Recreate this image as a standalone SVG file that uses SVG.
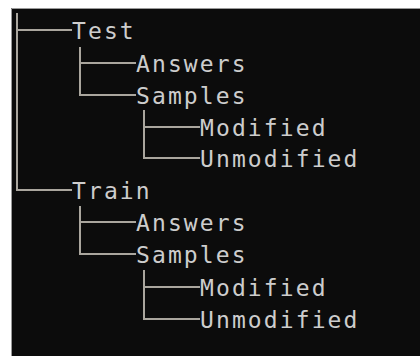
<svg xmlns="http://www.w3.org/2000/svg" width="420" height="356" viewBox="0 0 420 356">
  <style>
    .label { font-family: "DejaVu Sans Mono", "Liberation Mono", monospace; font-size: 23px; fill: #cdcdcd; letter-spacing: 2.1px; }
    .link { fill: none; stroke: #aaa69e; stroke-width: 2; }
  </style>
  <!-- page and terminal panel -->
  <rect x="0" y="0" width="420" height="356" fill="#ffffff"/>
  <rect x="11" y="8" width="409" height="348" fill="#0c0c0c"/>
  <path d="M11.5 356 V8.5 H420" fill="none" stroke="#9a9a9a" stroke-width="1"/>

  <g id="connectors">
    <!-- root level -->
    <path class="link" d="M17 13 V190 H72 M17 30 H72"/>
    <!-- Test children -->
    <path class="link" d="M80 47 V95 H136 M80 63 H136"/>
    <path class="link" d="M144 110 V158 H200 M144 127 H200"/>
    <!-- Train children -->
    <path class="link" d="M80 206 V254 H136 M80 222 H136"/>
    <path class="link" d="M144 270 V319 H200 M144 287 H200"/>
  </g>

  <g id="test"><text class="label" x="72" y="39">Test</text></g>
  <g id="test-answers"><text class="label" x="136" y="72">Answers</text></g>
  <g id="test-samples"><text class="label" x="136" y="104">Samples</text></g>
  <g id="test-samples-modified"><text class="label" x="200" y="136">Modified</text></g>
  <g id="test-samples-unmodified"><text class="label" x="200" y="167">Unmodified</text></g>
  <g id="train"><text class="label" x="72" y="199">Train</text></g>
  <g id="train-answers"><text class="label" x="136" y="231">Answers</text></g>
  <g id="train-samples"><text class="label" x="136" y="263">Samples</text></g>
  <g id="train-samples-modified"><text class="label" x="200" y="296">Modified</text></g>
  <g id="train-samples-unmodified"><text class="label" x="200" y="328">Unmodified</text></g>
</svg>
